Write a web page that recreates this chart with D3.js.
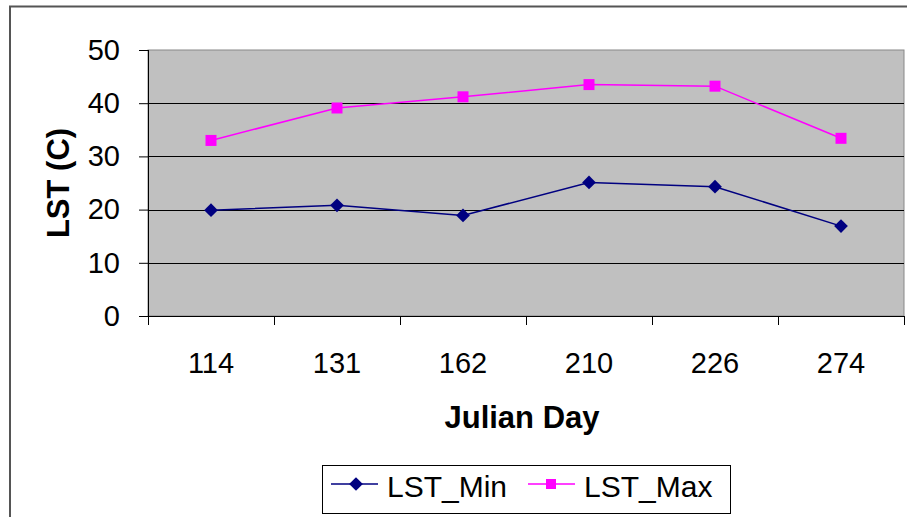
<!DOCTYPE html>
<html><head><meta charset="utf-8">
<script src="https://cdn.jsdelivr.net/npm/d3@7"></script>
<style>body{margin:0;background:#fff;}svg{display:block;font-family:Arial,"Liberation Sans",sans-serif;}</style>
</head><body>
<script>
const categories = ["114","131","162","210","226","274"];
const lstMin = [19.9, 20.8, 18.9, 25.1, 24.3, 16.9];
const lstMax = [33.0, 39.1, 41.2, 43.5, 43.2, 33.4];
const yTicks = [0,10,20,30,40,50];

const W=907,H=517;
const FONT="Arial,'Liberation Sans',sans-serif";
const svg=d3.select("body").append("svg").attr("width",W).attr("height",H);
// outer chart border
svg.append("rect").attr("x",10).attr("y",6.5).attr("width",W+20).attr("height",H+20)
  .attr("fill","#fff").attr("stroke","#555").attr("stroke-width",2);

const L=148,R=904,T=50,B=316;
const x=d3.scaleBand().domain(categories).range([L,R]);
const y=d3.scaleLinear().domain([0,50]).range([B,T]);

svg.append("rect").attr("x",L).attr("y",T).attr("width",R-L).attr("height",B-T)
  .attr("fill","#c0c0c0").attr("stroke","#888").attr("stroke-width",1);

// gridlines
svg.append("g").selectAll("line").data(yTicks.filter(d=>d>0&&d<50)).join("line")
  .attr("x1",L).attr("x2",R).attr("y1",d=>Math.round(y(d))+0.5).attr("y2",d=>Math.round(y(d))+0.5)
  .attr("stroke","#000").attr("stroke-width",1);

// y axis
const yAxis=svg.append("g").attr("transform",`translate(${L},0)`)
  .call(d3.axisLeft(y).tickValues(yTicks).tickSize(9).tickPadding(19).tickFormat(d3.format("d")));
yAxis.select(".domain").attr("stroke","#000").attr("d",`M0.5,${T}V${B}`);
yAxis.selectAll("text").attr("font-size",29).attr("fill","#000").attr("font-family",FONT);

// x axis
const xAxis=svg.append("g").attr("transform",`translate(0,${B})`)
  .call(d3.axisBottom(x).tickSize(0).tickPadding(36));
xAxis.select(".domain").attr("stroke","#000").attr("d",`M${L},0.5H${R}`);
xAxis.selectAll("text").attr("font-size",29).attr("fill","#000").attr("font-family",FONT);
const bounds=categories.map(c=>x(c)).concat([R]);
svg.append("g").selectAll("line").data(bounds).join("line")
  .attr("x1",d=>Math.round(d)+0.5).attr("x2",d=>Math.round(d)+0.5).attr("y1",B).attr("y2",B+9).attr("stroke","#000");

// axis titles
svg.append("text").attr("x",522).attr("y",428).attr("text-anchor","middle")
  .attr("font-size",31).attr("font-weight","bold").text("Julian Day");
svg.append("text").attr("transform",`translate(69,${(T+B)/2}) rotate(-90)`).attr("text-anchor","middle")
  .attr("font-size",31).attr("font-weight","bold").text("LST (C)");

const cx=c=>x(c)+x.bandwidth()/2;
const line=d3.line().x((d,i)=>cx(categories[i])).y(d=>y(d));
const minColor="#000080", maxColor="#ff00ff";
svg.append("path").datum(lstMin).attr("d",line).attr("fill","none").attr("stroke",minColor).attr("stroke-width",1.5);
svg.append("path").datum(lstMax).attr("d",line).attr("fill","none").attr("stroke",maxColor).attr("stroke-width",1.5);
const diamond=d3.symbol().type(d3.symbolDiamond2).size(120);
svg.append("g").selectAll("path").data(lstMin).join("path")
  .attr("transform",(d,i)=>`translate(${cx(categories[i])},${y(d)})`).attr("d",diamond).attr("fill",minColor);
svg.append("g").selectAll("rect").data(lstMax).join("rect")
  .attr("x",(d,i)=>cx(categories[i])-5.5).attr("y",d=>y(d)-5.5).attr("width",11).attr("height",11).attr("fill",maxColor);

// legend
const lg=svg.append("g");
lg.append("rect").attr("x",322.5).attr("y",465.5).attr("width",408).attr("height",48).attr("fill","#fff").attr("stroke","#000");
const items=[{name:"LST_Min",c:minColor,m:"d",x0:331},{name:"LST_Max",c:maxColor,m:"s",x0:528}];
items.forEach(it=>{
  const g=lg.append("g");
  g.append("line").attr("x1",it.x0).attr("x2",it.x0+47).attr("y1",484).attr("y2",484).attr("stroke",it.c).attr("stroke-width",1.5);
  if(it.m==="d") g.append("path").attr("transform",`translate(${it.x0+25},484)`).attr("d",diamond).attr("fill",it.c);
  else g.append("rect").attr("x",it.x0+23-5).attr("y",479).attr("width",10).attr("height",10).attr("fill",it.c);
  g.append("text").attr("x",it.x0+56).attr("y",497).attr("font-size",30).attr("fill","#000").attr("font-family",FONT).text(it.name);
});
</script>
</body></html>
